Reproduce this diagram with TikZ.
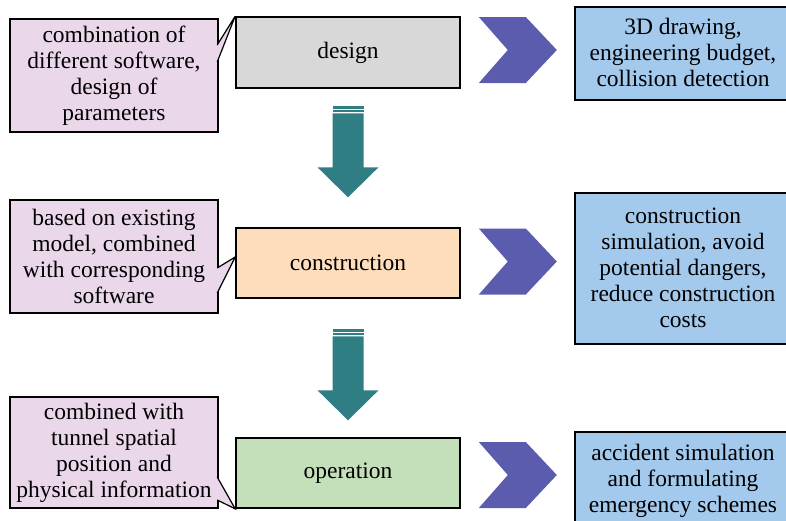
\documentclass[tikz,border=0pt]{standalone}
\usepackage{fontspec}
\setmainfont{Liberation Serif}
\usepackage{xcolor}
\usetikzlibrary{calc, positioning}

\definecolor{notepink}{HTML}{EAD7EA}
\definecolor{designgray}{HTML}{D8D8D8}
\definecolor{buildorange}{HTML}{FDDDBC}
\definecolor{rungreen}{HTML}{C3E0BA}
\definecolor{resultblue}{HTML}{A3C9EC}
\definecolor{flowteal}{HTML}{2E7E84}
\definecolor{chevronblue}{HTML}{5C5CAF}

\begin{document}
\begin{tikzpicture}[x=1pt, y=-1pt, font=\fontsize{23.5}{26}\selectfont]
		\tikzstyle{note} = [draw=black, line width=1.6pt, fill=notepink, rectangle, minimum width=208pt, align=center, inner sep=0pt]
		\tikzstyle{stage} = [draw=black, line width=1.6pt, rectangle, minimum width=224pt, minimum height=70pt]
		\tikzstyle{resultbox} = [draw=black, line width=1.6pt, fill=resultblue, rectangle, minimum width=260pt, anchor=north west]
		\tikzstyle{result} = [align=center, inner sep=0pt]
		\tikzstyle{pointer} = [draw=black, line width=1.2pt, fill=notepink]
		\tikzstyle{chevron} = [fill=chevronblue]
		\tikzstyle{flow} = [fill=flowteal]
		
		\useasboundingbox (0,0) rectangle (786,520);
		\clip (0,0) rectangle (786,520);
		
		\node[note, minimum height=113pt]	at (114, 75.5) 		(n1) 	{combination of\\different software,\\design of\\parameters};
		\node[note, minimum height=113pt]	at (114, 256.5) 	(n2) 	{based on existing\\model, combined\\with corresponding\\software};
		\node[note, minimum height=111pt]	at (114, 452.5) 	(n3) 	{combined with\\tunnel spatial\\position and\\physical information};
		
		\node[stage, fill=designgray, minimum height=71pt]	at (348, 52.5)	(s1)	{design};
		\node[stage, fill=buildorange]	at (348, 263)	(s2)	{construction};
		\node[stage, fill=rungreen]		at (348, 473)	(s3)	{operation};
		
		% result boxes run past the right and bottom edges
		\node[resultbox, minimum height=93pt]	at (574, 6)		(r1box)	{};
		\node[resultbox, minimum height=151pt]	at (574, 192)	(r2box)	{};
		\node[resultbox, minimum height=130pt]	at (574, 431)	(r3box)	{};
		\node[result]	at (683, 52.5)	(r1)	{3D drawing,\\engineering budget,\\collision detection};
		\node[result]	at (683, 267.5)	(r2)	{construction\\simulation, avoid\\potential dangers,\\reduce construction\\costs};
		\node[result]	at (683, 480.5)	(r3)	{accident simulation\\and formulating\\emergency schemes};
		
		% callout pointers
		\path[pointer] ($(n1.east)+(-1.6,-30.5)$) -- (s1.north west) -- ($(n1.east)+(-1.6,-13.5)$);
		\path[pointer] ($(n2.east)+(-1.6,11.5)$) -- ($(s2.west)+(0,-6)$) -- ($(n2.east)+(-1.6,36.5)$);
		\path[pointer] ($(n3.east)+(-1.6,24.5)$) -- (s3.south west) -- ($(n3.east)+(-1.6,47.5)$);
		
		% chevrons
		\coordinate (c1) at ($(s1.east)+(57,-2.5)$);
		\coordinate (c2) at ($(s2.east)+(57,-1.5)$);
		\coordinate (c3) at ($(s3.east)+(57,2)$);
		\foreach \c in {c1, c2, c3}
			\fill[chevron] (\c) ++(-39,-33) -- ++(47,0) -- ++(31,33) -- ++(-31,33) -- ++(-47,0) -- ++(29,-33) -- cycle;
		
		% down arrows
		\coordinate (a1) at ($(s1.south)+(0,17.5)$);
		\coordinate (a2) at ($(s2.south)+(0,30.5)$);
		\foreach \a in {a1, a2} {
			\fill[flow] ($(\a)+(-15.5,0)$) rectangle ($(\a)+(15.5,2.5)$);
			\fill[flow] ($(\a)+(-15.5,3.8)$) rectangle ($(\a)+(15.5,5.8)$);
			\fill[flow] (\a) ++(-15.5,7) -- ++(31,0) -- ++(0,54) -- ++(15,0) -- ++(-30.5,30) -- ++(-30.5,-30) -- ++(15,0) -- cycle;
		}
	\end{tikzpicture}
\end{document}
